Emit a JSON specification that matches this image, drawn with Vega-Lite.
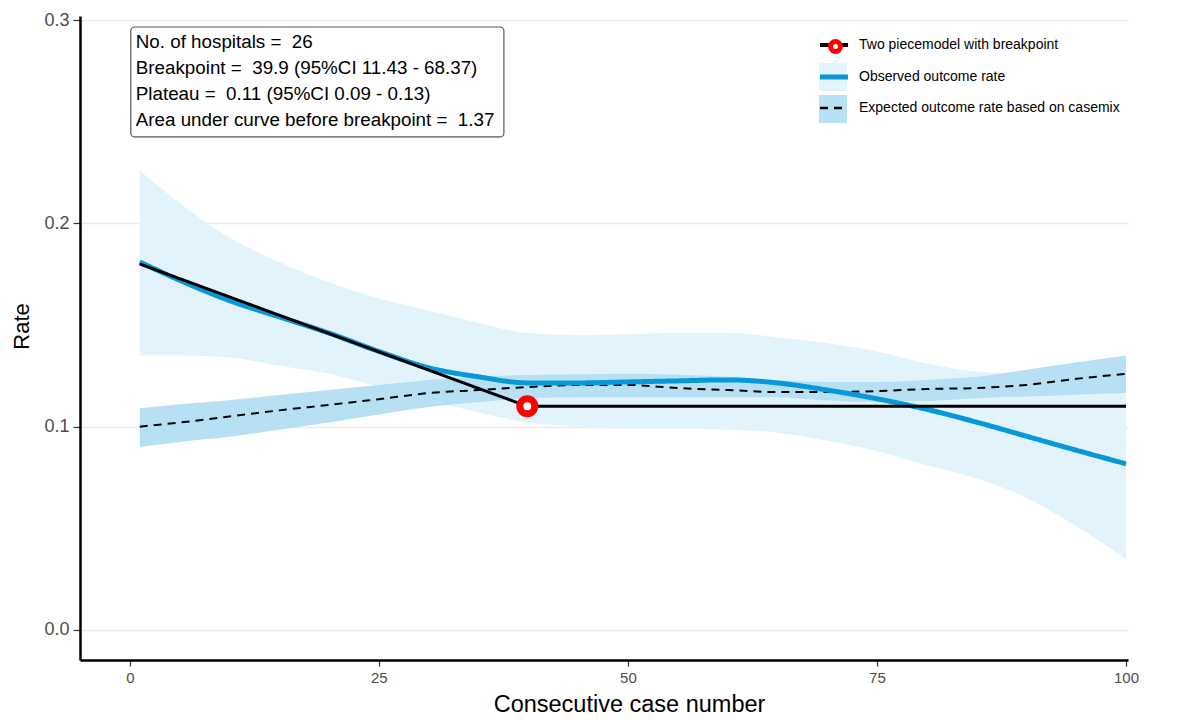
{
  "$schema": "https://vega.github.io/schema/vega-lite/v6.json",
  "width": 1048,
  "height": 644,
  "autosize": {"type": "none"},
  "padding": {"left": 80, "top": 16, "right": 67, "bottom": 60},
  "background": "white",
  "config": {
    "font": "Liberation Sans",
    "view": {"stroke": null},
    "axis": {
      "domainColor": "black",
      "domainWidth": 2.5,
      "tickColor": "#333333",
      "tickWidth": 1.2,
      "labelColor": "#4d4d4d",
      "titleFontWeight": "normal",
      "titleColor": "black",
      "gridColor": "#EBEBEB",
      "gridWidth": 1.5
    },
    "axisX": {"labelFontSize": 15, "tickSize": 6, "labelPadding": 4, "titleFontSize": 23.5, "titlePadding": 7, "titleX": 549},
    "axisY": {"labelFontSize": 18, "tickSize": 7, "labelPadding": 4, "titleFontSize": 22, "titlePadding": 10, "titleY": 310}
  },
  "datasets": {
    "curves": [
      {"x": 1, "obs": 0.181, "obs_lo": 0.135, "obs_hi": 0.226, "exp": 0.100, "exp_lo": 0.090, "exp_hi": 0.109},
      {"x": 5, "obs": 0.172, "obs_lo": 0.135, "obs_hi": 0.210, "exp": 0.102, "exp_lo": 0.0925, "exp_hi": 0.111},
      {"x": 10, "obs": 0.162, "obs_lo": 0.134, "obs_hi": 0.193, "exp": 0.105, "exp_lo": 0.095, "exp_hi": 0.113},
      {"x": 15, "obs": 0.154, "obs_lo": 0.130, "obs_hi": 0.181, "exp": 0.108, "exp_lo": 0.0985, "exp_hi": 0.1155},
      {"x": 20, "obs": 0.146, "obs_lo": 0.126, "obs_hi": 0.171, "exp": 0.1107, "exp_lo": 0.102, "exp_hi": 0.118},
      {"x": 25, "obs": 0.137, "obs_lo": 0.1195, "obs_hi": 0.163, "exp": 0.1135, "exp_lo": 0.106, "exp_hi": 0.1205},
      {"x": 30, "obs": 0.129, "obs_lo": 0.113, "obs_hi": 0.157, "exp": 0.1165, "exp_lo": 0.1097, "exp_hi": 0.123},
      {"x": 35, "obs": 0.1245, "obs_lo": 0.107, "obs_hi": 0.151, "exp": 0.118, "exp_lo": 0.112, "exp_hi": 0.1245},
      {"x": 40, "obs": 0.1215, "obs_lo": 0.102, "obs_hi": 0.146, "exp": 0.1195, "exp_lo": 0.114, "exp_hi": 0.1254},
      {"x": 45, "obs": 0.1215, "obs_lo": 0.100, "obs_hi": 0.145, "exp": 0.1205, "exp_lo": 0.1145, "exp_hi": 0.1258},
      {"x": 50, "obs": 0.122, "obs_lo": 0.099, "obs_hi": 0.1455, "exp": 0.1205, "exp_lo": 0.1145, "exp_hi": 0.126},
      {"x": 55, "obs": 0.1225, "obs_lo": 0.099, "obs_hi": 0.146, "exp": 0.119, "exp_lo": 0.1145, "exp_hi": 0.1255},
      {"x": 60, "obs": 0.123, "obs_lo": 0.0985, "obs_hi": 0.146, "exp": 0.118, "exp_lo": 0.1145, "exp_hi": 0.1245},
      {"x": 65, "obs": 0.1215, "obs_lo": 0.097, "obs_hi": 0.144, "exp": 0.117, "exp_lo": 0.1145, "exp_hi": 0.1228},
      {"x": 70, "obs": 0.118, "obs_lo": 0.093, "obs_hi": 0.141, "exp": 0.117, "exp_lo": 0.1128, "exp_hi": 0.122},
      {"x": 75, "obs": 0.1137, "obs_lo": 0.088, "obs_hi": 0.137, "exp": 0.1175, "exp_lo": 0.1122, "exp_hi": 0.122},
      {"x": 80, "obs": 0.1085, "obs_lo": 0.081, "obs_hi": 0.131, "exp": 0.1185, "exp_lo": 0.1126, "exp_hi": 0.123},
      {"x": 85, "obs": 0.1022, "obs_lo": 0.0745, "obs_hi": 0.127, "exp": 0.119, "exp_lo": 0.114, "exp_hi": 0.1245},
      {"x": 90, "obs": 0.0953, "obs_lo": 0.065, "obs_hi": 0.126, "exp": 0.1205, "exp_lo": 0.1148, "exp_hi": 0.128},
      {"x": 95, "obs": 0.0884, "obs_lo": 0.051, "obs_hi": 0.127, "exp": 0.1235, "exp_lo": 0.1157, "exp_hi": 0.1315},
      {"x": 100, "obs": 0.0817, "obs_lo": 0.035, "obs_hi": 0.128, "exp": 0.126, "exp_lo": 0.1165, "exp_hi": 0.135}
    ],
    "piece": [
      {"x": 1, "y": 0.18},
      {"x": 39.9, "y": 0.11},
      {"x": 100, "y": 0.11}
    ],
    "bp": [
      {"x": 39.9, "y": 0.11}
    ]
  },
  "layer": [
    {
      "data": {"name": "curves"},
      "mark": {"type": "area", "interpolate": "monotone"},
      "encoding": {
        "x": {
          "field": "x", "type": "quantitative",
          "scale": {"domain": [-5, 100.2], "nice": false, "zero": false},
          "axis": {"title": "Consecutive case number", "values": [0, 25, 50, 75, 100], "grid": false}
        },
        "y": {
          "field": "obs_lo", "type": "quantitative",
          "scale": {"domain": [-0.0148, 0.302], "nice": false, "zero": false},
          "axis": {"title": "Rate", "values": [0, 0.1, 0.2, 0.3], "format": ".1f", "grid": true}
        },
        "y2": {"field": "obs_hi"},
        "fill": {
          "datum": "Observed band", "type": "nominal",
          "scale": {"domain": ["Observed band", "Expected band"], "range": ["#E3F3FB", "#B7E0F5"]},
          "legend": {"title": null, "orient": "none", "legendX": 739, "legendY": 47, "symbolType": "square", "symbolSize": 784, "symbolStrokeWidth": 0, "labelExpr": "''", "rowPadding": 4, "padding": 0}
        }
      }
    },
    {
      "data": {"name": "curves"},
      "mark": {"type": "area", "interpolate": "monotone"},
      "encoding": {
        "x": {"field": "x", "type": "quantitative"},
        "y": {"field": "exp_lo", "type": "quantitative"},
        "y2": {"field": "exp_hi"},
        "fill": {"datum": "Expected band", "type": "nominal"}
      }
    },
    {
      "data": {"name": "curves"},
      "mark": {"type": "line", "interpolate": "monotone", "strokeWidth": 2},
      "encoding": {
        "x": {"field": "x", "type": "quantitative"},
        "y": {"field": "exp", "type": "quantitative"},
        "stroke": {
          "datum": "Expected outcome rate based on casemix", "type": "nominal",
          "scale": {"domain": ["Two piecemodel with breakpoint", "Observed outcome rate", "Expected outcome rate based on casemix"], "range": ["black", "#0798DA", "black"]},
          "legend": {
            "title": null, "orient": "none", "legendX": 747, "legendY": 22, "symbolType": "stroke", "symbolSize": 784,
            "labelFontSize": 14, "labelColor": "black", "labelOffset": 18, "labelLimit": 400, "rowPadding": 14, "padding": 0, "symbolFillColor": "transparent",
            "encode": {"symbols": {"update": {"strokeWidth": {"signal": "datum.value === 'Observed outcome rate' ? 5 : (datum.value === 'Expected outcome rate based on casemix' ? 2.5 : 4)"}}}}
          }
        },
        "strokeDash": {
          "datum": "Expected outcome rate based on casemix", "type": "nominal",
          "scale": {"domain": ["Two piecemodel with breakpoint", "Observed outcome rate", "Expected outcome rate based on casemix"], "range": [[1, 0], [1, 0], [8, 6]]},
          "legend": {"title": null, "orient": "none", "legendX": 747, "legendY": 22, "symbolType": "stroke", "symbolSize": 784, "labelFontSize": 14, "labelColor": "black", "labelOffset": 18, "labelLimit": 400, "rowPadding": 14, "padding": 0}
        }
      }
    },
    {
      "data": {"name": "curves"},
      "mark": {"type": "line", "interpolate": "monotone", "strokeWidth": 5},
      "encoding": {
        "x": {"field": "x", "type": "quantitative"},
        "y": {"field": "obs", "type": "quantitative"},
        "stroke": {"datum": "Observed outcome rate", "type": "nominal"},
        "strokeDash": {"datum": "Observed outcome rate", "type": "nominal"}
      }
    },
    {
      "data": {"name": "piece"},
      "mark": {"type": "line", "strokeWidth": 3},
      "encoding": {
        "x": {"field": "x", "type": "quantitative"},
        "y": {"field": "y", "type": "quantitative"},
        "stroke": {"datum": "Two piecemodel with breakpoint", "type": "nominal"},
        "strokeDash": {"datum": "Two piecemodel with breakpoint", "type": "nominal"}
      }
    },
    {
      "data": {"name": "bp"},
      "mark": {"type": "point", "filled": true, "fill": "white", "stroke": "red", "strokeWidth": 7, "size": 225, "opacity": 1},
      "encoding": {
        "x": {"field": "x", "type": "quantitative"},
        "y": {"field": "y", "type": "quantitative"},
        "shape": {
          "datum": "Breakpoint", "type": "nominal",
          "scale": {"domain": ["Breakpoint"], "range": ["circle"]},
          "legend": {
            "title": null, "orient": "none", "legendX": 748, "legendY": 23, "symbolSize": 100, "symbolStrokeWidth": 5, "labelExpr": "''", "padding": 0,
            "encode": {"symbols": {"update": {"fill": {"value": "white"}, "stroke": {"value": "red"}, "opacity": {"value": 1}}}}
          }
        }
      }
    },
    {
      "data": {"values": [{}]},
      "mark": {"type": "rect", "fill": "white", "stroke": "#555555", "strokeWidth": 1.2, "cornerRadius": 4},
      "encoding": {
        "x": {"datum": 0.1, "type": "quantitative"},
        "x2": {"datum": 37.55},
        "y": {"datum": 0.2966, "type": "quantitative"},
        "y2": {"datum": 0.2425}
      }
    },
    {
      "data": {"values": [{}]},
      "mark": {
        "type": "text", "align": "left", "baseline": "alphabetic", "fontSize": 18.8, "lineHeight": 26, "color": "black",
        "text": ["No. of hospitals = \u00a026", "Breakpoint = \u00a039.9 (95%CI 11.43 - 68.37)", "Plateau = \u00a00.11 (95%CI 0.09 - 0.13)", "Area under curve before breakpoint = \u00a01.37"]
      },
      "encoding": {
        "x": {"datum": 0.6, "type": "quantitative"},
        "y": {"datum": 0.2863, "type": "quantitative"}
      }
    }
  ]
}
